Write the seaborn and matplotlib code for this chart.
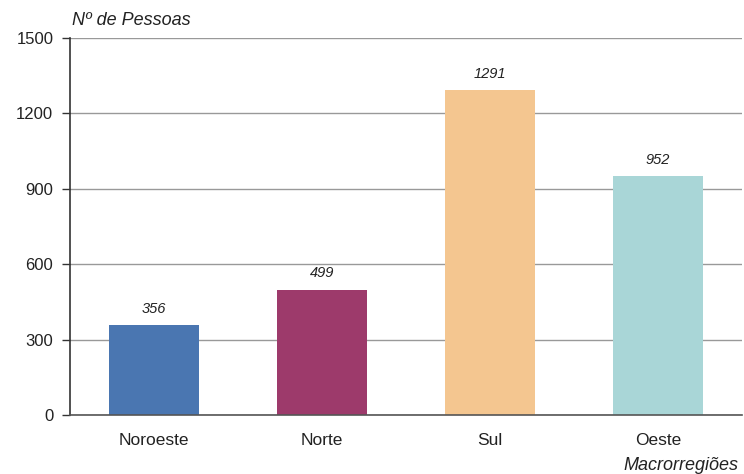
import matplotlib
matplotlib.use("Agg")
import matplotlib.pyplot as plt
import seaborn as sns
import pandas as pd

regioes = ["Noroeste", "Norte", "Sul", "Oeste"]
pessoas = [356, 499, 1291, 952]
cores = ["#4a76b1", "#9d3a6b", "#f4c690", "#a9d6d7"]
yticks = [0, 300, 600, 900, 1200, 1500]

sns.set_theme(style="white")
plt.rcParams["font.family"] = ["Liberation Sans", "DejaVu Sans"]

df = pd.DataFrame({"regiao": regioes, "pessoas": pessoas})

fig = plt.figure(figsize=(7.44, 4.74), dpi=100)
ax = fig.add_axes([0.094, 0.1245, 0.903, 0.7955])

sns.barplot(data=df, x="regiao", y="pessoas", hue="regiao", palette=cores,
            width=0.536, legend=False, ax=ax, saturation=1, linewidth=0)

ax.set_ylim(0, 1500)
ax.set_xlim(-0.5, len(regioes) - 0.5)
ax.set_yticks(yticks)
ax.set_yticklabels([str(v) for v in yticks], fontsize=12, color="#222222")
ax.set_xticks(range(len(regioes)))
ax.set_xticklabels(regioes, fontsize=12.5, color="#222222")

ax.yaxis.grid(True, color="#999999", linewidth=1)
ax.set_axisbelow(True)
for s in ["top", "right"]:
    ax.spines[s].set_visible(False)
ax.spines["left"].set_color("#333333")
ax.spines["bottom"].set_color("#555555")
ax.spines["left"].set_linewidth(1.2)
ax.spines["bottom"].set_linewidth(1.2)
ax.tick_params(axis="y", left=True, length=6, width=1, color="#333333", pad=6)
ax.tick_params(axis="x", bottom=False, pad=7)
ax.set_xlabel("")
ax.set_ylabel("")

for i, v in enumerate(pessoas):
    ax.text(i, v + 36, str(v), ha="center", va="bottom", fontsize=10.5,
            style="italic", color="#222222")

fig.text(0.097, 0.957, "Nº de Pessoas", fontsize=13, style="italic",
         color="#222222", ha="left", va="center")
fig.text(0.993, 0.017, "Macrorregiões", fontsize=13, style="italic",
         color="#222222", ha="right", va="center")

fig.savefig("out.png", dpi=100)
